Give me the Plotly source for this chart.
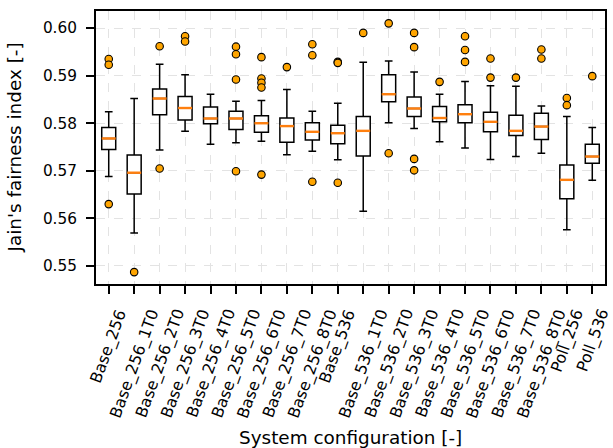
import plotly.graph_objects as go

categories = [
    "Base_256", "Base_256_1T0", "Base_256_2T0", "Base_256_3T0", "Base_256_4T0",
    "Base_256_5T0", "Base_256_6T0", "Base_256_7T0", "Base_256_8T0", "Base_536",
    "Base_536_1T0", "Base_536_2T0", "Base_536_3T0", "Base_536_4T0", "Base_536_5T0",
    "Base_536_6T0", "Base_536_7T0", "Base_536_8T0", "Poll_256", "Poll_536",
]

whisker_low = [0.5688, 0.5569, 0.5744, 0.5783, 0.5756, 0.5759, 0.5762, 0.5734, 0.5741, 0.5723,
               0.5615, 0.5801, 0.5789, 0.5761, 0.5748, 0.5724, 0.5730, 0.5737, 0.5576, 0.5680]
q1 = [0.5745, 0.5651, 0.5818, 0.5807, 0.5799, 0.5787, 0.5781, 0.5760, 0.5765, 0.5757,
      0.5731, 0.5845, 0.5814, 0.5803, 0.5801, 0.5782, 0.5774, 0.5766, 0.5641, 0.5716]
median = [0.5768, 0.5696, 0.5852, 0.5832, 0.5810, 0.5810, 0.5800, 0.5794, 0.5782, 0.5779,
          0.5784, 0.5861, 0.5831, 0.5811, 0.5819, 0.5803, 0.5784, 0.5793, 0.5681, 0.5730]
q3 = [0.5791, 0.5733, 0.5872, 0.5856, 0.5834, 0.5825, 0.5816, 0.5811, 0.5801, 0.5796,
      0.5814, 0.5902, 0.5855, 0.5835, 0.5839, 0.5823, 0.5817, 0.5821, 0.5712, 0.5756]
whisker_high = [0.5824, 0.5852, 0.5924, 0.5902, 0.5861, 0.5846, 0.5848, 0.5871, 0.5825, 0.5842,
                0.5928, 0.5931, 0.5908, 0.5861, 0.5888, 0.5879, 0.5878, 0.5836, 0.5814, 0.5791]
outliers = [
    [0.5935, 0.5923, 0.5630],
    [0.5487],
    [0.5962, 0.5705],
    [0.5983, 0.5972],
    [],
    [0.5961, 0.5945, 0.5892, 0.5699],
    [0.5939, 0.5894, 0.5885, 0.5875, 0.5692],
    [0.5918],
    [0.5966, 0.5943, 0.5677],
    [0.5929, 0.5927, 0.5675],
    [0.5990],
    [0.6010, 0.5737],
    [0.5990, 0.5960, 0.5725, 0.5701],
    [0.5887],
    [0.5983, 0.5954, 0.5929],
    [0.5936, 0.5896],
    [0.5896],
    [0.5955, 0.5936],
    [0.5853, 0.5838],
    [0.5899],
]
y_ticks = [0.55, 0.56, 0.57, 0.58, 0.59, 0.60]

x_title = "System configuration [-]"
y_title = "Jain's fairness index [-]"

positions = list(range(len(categories)))
box_w = 0.55
font = "DejaVu Sans"
tick_size = 15.3
xlabel_size = 15.8
title_size = 18.4

fig = go.Figure()
fig.add_trace(go.Box(
    x=positions, q1=q1, median=median, q3=q3,
    lowerfence=whisker_low, upperfence=whisker_high,
    width=box_w, whiskerwidth=0.55,
    fillcolor="white", line=dict(color="black", width=1.5),
    boxpoints=False, showlegend=False, hoverinfo="skip",
))

# orange median lines
mx, my = [], []
for p, m in zip(positions, median):
    mx += [p - box_w / 2, p + box_w / 2, None]
    my += [m, m, None]
fig.add_trace(go.Scatter(x=mx, y=my, mode="lines",
                         line=dict(color="#ff7f0e", width=2.4),
                         showlegend=False, hoverinfo="skip"))

ox, oy = [], []
for p, vals in zip(positions, outliers):
    for v in vals:
        ox.append(p)
        oy.append(v)
fig.add_trace(go.Scatter(x=ox, y=oy, mode="markers",
                         marker=dict(color="#ffa500", size=7.5,
                                     line=dict(color="black", width=1.1)),
                         showlegend=False, hoverinfo="skip"))

annotations = []
for p, lab in zip(positions, categories):
    annotations.append(dict(
        x=p, xref="x", y=0, yref="paper", yshift=-20,
        text=lab, textangle=-70, showarrow=False,
        xanchor="center", yanchor="top",
        font=dict(family=font, size=xlabel_size, color="black"),
    ))
annotations.append(dict(
    x=0.5, xref="paper", y=0, yref="paper", yshift=-153,
    text=x_title, showarrow=False, xanchor="center", yanchor="middle",
    font=dict(family=font, size=title_size, color="black"),
))
annotations.append(dict(
    x=0, xref="paper", xshift=-82, y=0.5, yref="paper",
    text=y_title, textangle=-90, showarrow=False, xanchor="center", yanchor="middle",
    font=dict(family=font, size=title_size, color="black"),
))

fig.update_layout(
    width=613, height=448,
    margin=dict(l=96, r=6, t=11, b=164),
    paper_bgcolor="white", plot_bgcolor="white",
    font=dict(family=font, size=tick_size, color="black"),
    annotations=annotations,
)
fig.update_xaxes(
    range=[-0.5, len(categories) - 0.5],
    tickvals=positions, showticklabels=False,
    showline=True, mirror=True, linecolor="black", linewidth=2,
    ticks="outside", ticklen=8, tickwidth=1.8, tickcolor="black",
    showgrid=True, gridcolor="#e3e3e3", griddash="dash", gridwidth=1,
    zeroline=False,
)
fig.update_yaxes(
    range=[0.5462, 0.6036],
    tickvals=y_ticks, tickformat=".2f",
    showline=True, mirror=True, linecolor="black", linewidth=2,
    ticks="outside", ticklen=8, tickwidth=1.8, tickcolor="black",
    ticklabelstandoff=6,
    showgrid=True, gridcolor="#e3e3e3", griddash="dash", gridwidth=1,
    zeroline=False,
    tickfont=dict(size=tick_size, family=font),
)

fig.write_html("out.html")
